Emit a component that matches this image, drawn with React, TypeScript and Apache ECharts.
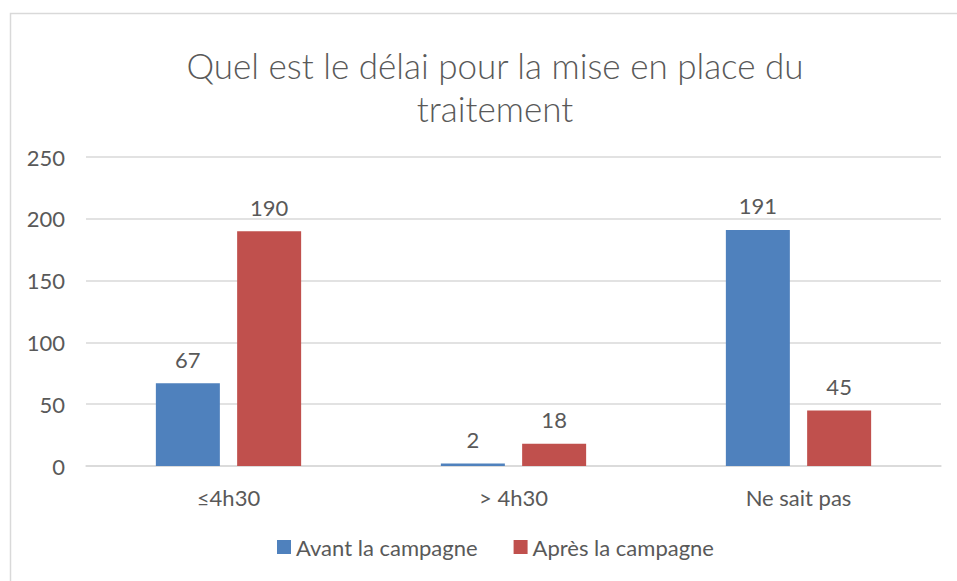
import React, { useEffect, useRef } from "react";
import * as echarts from "echarts";

const categories = ["≤4h30", "> 4h30", "Ne sait pas"];
const avant = [67, 2, 191];
const apres = [190, 18, 45];
const seriesNames = ["Avant la campagne", "Après la campagne"];
const titleText = "Quel est le délai pour la mise en place du\ntraitement";

const FONT = "Lato, 'Liberation Sans', sans-serif";
const TXT = "#595959";

export default function App() {
  const ref = useRef<HTMLDivElement>(null);
  useEffect(() => {
    document.body.style.margin = "0";
    if (!ref.current) return;
    const chart = echarts.init(ref.current, null, { renderer: "svg" });
    const label = {
      show: true,
      position: "top" as const,
      distance: 13,
      color: TXT,
      fontSize: 22,
      fontFamily: FONT,
    };
    chart.setOption({
      animation: false,
      backgroundColor: "#ffffff",
      textStyle: { fontFamily: FONT },
      graphic: [
        {
          type: "rect",
          shape: { x: 10.5, y: 13.5, width: 980, height: 620 },
          style: { fill: "none", stroke: "#d9d9d9", lineWidth: 1.5 },
          silent: true,
        },
      ],
      title: {
        text: titleText,
        left: 490,
        top: 38,
        textAlign: "center",
        textStyle: {
          color: TXT,
          fontSize: 35,
          fontWeight: 300,
          fontFamily: FONT,
          lineHeight: 43,
        },
      },
      legend: {
        data: seriesNames,
        left: 272,
        bottom: 18,
        itemWidth: 14,
        itemHeight: 14,
        itemGap: 36,
        icon: "rect",
        textStyle: { color: TXT, fontSize: 22, fontFamily: FONT },
      },
      grid: { left: 86, right: 16, top: 157, bottom: 115, containLabel: false },
      xAxis: {
        type: "category",
        data: categories,
        axisLine: { show: true, lineStyle: { color: "#d9d9d9", width: 1.5 } },
        axisTick: { show: false },
        axisLabel: { color: TXT, fontSize: 22, fontFamily: FONT, margin: 20 },
      },
      yAxis: {
        type: "value",
        min: 0,
        max: 250,
        interval: 50,
        axisLine: { show: false },
        axisTick: { show: false },
        splitLine: { lineStyle: { color: "#d9d9d9", width: 1.5 } },
        axisLabel: { color: TXT, fontSize: 22, fontFamily: FONT, margin: 21 },
      },
      series: [
        {
          name: seriesNames[0],
          type: "bar",
          data: avant,
          barWidth: 64,
          barGap: "27%",
          itemStyle: { color: "#4F81BD" },
          label,
        },
        {
          name: seriesNames[1],
          type: "bar",
          data: apres,
          barWidth: 64,
          barGap: "27%",
          itemStyle: { color: "#C0504D" },
          label,
        },
      ],
    });
    return () => chart.dispose();
  }, []);
  return <div ref={ref} style={{ width: 957, height: 581 }} />;
}
